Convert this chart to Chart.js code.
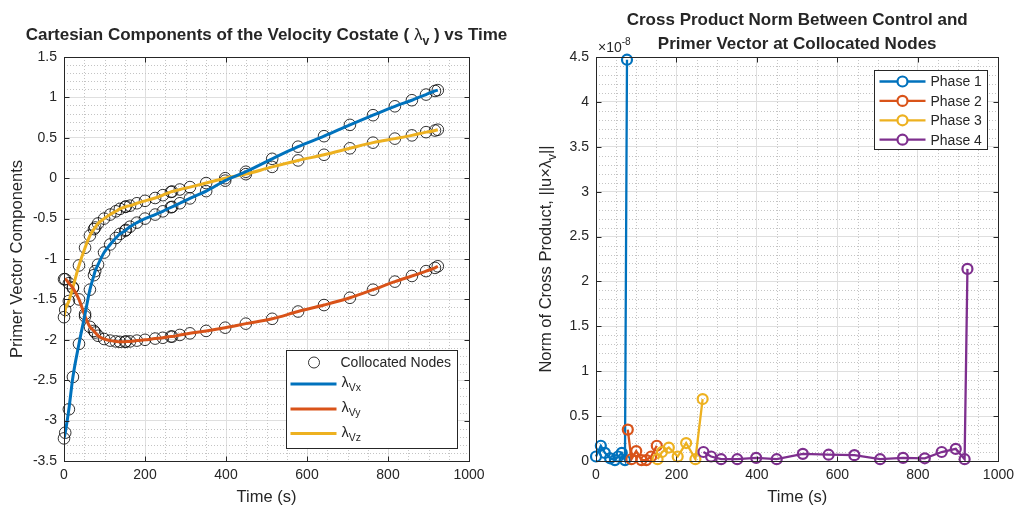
<!DOCTYPE html>
<html><head><meta charset="utf-8">
<script src="https://cdn.jsdelivr.net/npm/chart.js@4"></script>
<style>
html,body{margin:0;padding:0;background:#fff;}
#wrap{position:relative;width:1020px;height:509px;overflow:hidden;}
.c{position:absolute;top:0;width:510px;height:509px;}
</style></head><body>
<div id="wrap">
<div class="c" style="left:0"><canvas id="left" width="510" height="509"></canvas></div>
<div class="c" style="left:510px"><canvas id="right" width="510" height="509"></canvas></div>
</div>
<script>
// ---------- data: left chart (velocity costate components at collocated nodes) ----------
const nodeTimes = [0, 3, 12, 22, 37, 52, 64, 74, 77, 84, 99, 114, 128, 138, 151, 153, 163, 180, 200, 225, 244, 264, 267, 286, 311, 351, 398, 449, 514, 578, 642, 706, 763, 817, 859, 894, 916, 923];
const lamVx = [-3.22, -3.15, -2.86, -2.46, -2.05, -1.68, -1.38, -1.20, -1.15, -1.07, -0.92, -0.82, -0.74, -0.69, -0.65, -0.64, -0.60, -0.55, -0.50, -0.45, -0.41, -0.36, -0.355, -0.31, -0.25, -0.16, -0.03, 0.08, 0.24, 0.39, 0.52, 0.66, 0.78, 0.89, 0.965, 1.035, 1.08, 1.09];
const lamVy = [-1.25, -1.25, -1.30, -1.36, -1.50, -1.71, -1.84, -1.89, -1.91, -1.95, -1.99, -2.01, -2.02, -2.025, -2.025, -2.02, -2.02, -2.01, -2.00, -1.985, -1.975, -1.96, -1.96, -1.94, -1.92, -1.89, -1.85, -1.80, -1.74, -1.65, -1.57, -1.48, -1.38, -1.28, -1.21, -1.15, -1.11, -1.09];
const lamVz = [-1.72, -1.63, -1.52, -1.35, -1.08, -0.86, -0.71, -0.63, -0.61, -0.56, -0.50, -0.45, -0.41, -0.38, -0.355, -0.35, -0.34, -0.31, -0.28, -0.245, -0.21, -0.17, -0.165, -0.14, -0.11, -0.06, 0.00, 0.05, 0.14, 0.22, 0.29, 0.37, 0.44, 0.49, 0.53, 0.57, 0.59, 0.60];
const timeTicks = [0, 200, 400, 600, 800, 1000];
const leftYTicks = [-3.5, -3, -2.5, -2, -1.5, -1, -0.5, 0, 0.5, 1, 1.5];

// ---------- data: right chart (cross product norm, in units of 1e-8) ----------
const normExponent = -8;
const phase1Time = [0, 12, 22, 35, 47, 55, 64, 72, 77];
const phase1Norm = [0.05, 0.17, 0.09, 0.03, 0.01, 0.05, 0.09, 0.01, 4.47];
const phase2Time = [79, 88, 100, 113, 125, 137, 151];
const phase2Norm = [0.35, 0.02, 0.11, 0.01, 0.01, 0.05, 0.17];
const phase3Time = [153, 164, 181, 203, 224, 247, 265];
const phase3Norm = [0.02, 0.10, 0.15, 0.05, 0.20, 0.02, 0.69];
const phase4Time = [267, 286, 311, 351, 398, 449, 514, 578, 642, 706, 763, 817, 859, 894, 916, 923];
const phase4Norm = [0.10, 0.05, 0.02, 0.02, 0.035, 0.02, 0.08, 0.07, 0.065, 0.02, 0.035, 0.03, 0.10, 0.135, 0.02, 2.14];
const rightYTicks = [0, 0.5, 1, 1.5, 2, 2.5, 3, 3.5, 4, 4.5];
const phaseLabels = ['Phase 1', 'Phase 2', 'Phase 3', 'Phase 4'];

// ---------- styles ----------
const FAM = '"Liberation Sans", Arial, Helvetica, sans-serif';
const AX = '#262626';
const COLORS = ['#0072BD', '#D95319', '#EDB120', '#7E2F8E'];
const MAJOR = '#dfdfdf';
const MINOR = '#c4c4c4';
const TICK_SIZE = 14, AXT_SIZE = 16.5, TITLE_SIZE = 17, LEG_SIZE = 14;

function fnt(size, bold){ return (bold ? 'bold ' : '') + size + 'px ' + FAM; }
function pts(xs, ys){ return xs.map((x, i) => ({x: x, y: ys[i]})); }
function fmt(v){ return String(+(+v).toFixed(3)); }

function richWidth(ctx, segs, size){
  let w = 0;
  for (const s of segs){ ctx.font = fnt((s.sub || s.sup) ? size * 0.72 : size, s.bold); w += ctx.measureText(s.t).width; }
  return w;
}
function drawRich(ctx, segs, x, y, size, align){
  const w = richWidth(ctx, segs, size);
  let cx = align === 'center' ? x - w / 2 : x;
  ctx.textBaseline = 'middle'; ctx.textAlign = 'left';
  for (const s of segs){
    const sz = (s.sub || s.sup) ? size * 0.72 : size;
    ctx.font = fnt(sz, s.bold);
    const dy = s.sub ? size * 0.38 : (s.sup ? -size * 0.42 : 0);
    ctx.fillText(s.t, cx, y + dy);
    cx += ctx.measureText(s.t).width;
  }
}

function axesPlugin(cfg){
  return {
    id: 'matlabAxes_' + cfg.id,
    beforeDatasetsDraw(chart){
      const ctx = chart.ctx, a = chart.chartArea, xs = chart.scales.x, ys = chart.scales.y;
      ctx.save();
      ctx.strokeStyle = MINOR; ctx.lineWidth = 1; ctx.setLineDash([1, 2]);
      const nx = Math.round((xs.max - xs.min) / cfg.xMinor), rx = Math.round(cfg.xMajor / cfg.xMinor);
      for (let i = 1; i < nx; i++){
        if (i % rx === 0) continue;
        const px = Math.round(xs.getPixelForValue(xs.min + i * cfg.xMinor)) + 0.5;
        ctx.beginPath(); ctx.moveTo(px, a.top); ctx.lineTo(px, a.bottom); ctx.stroke();
      }
      const ny = Math.round((ys.max - ys.min) / cfg.yMinor), ry = Math.round(cfg.yMajor / cfg.yMinor);
      for (let i = 1; i < ny; i++){
        if (i % ry === 0) continue;
        const py = Math.round(ys.getPixelForValue(ys.min + i * cfg.yMinor)) + 0.5;
        ctx.beginPath(); ctx.moveTo(a.left, py); ctx.lineTo(a.right, py); ctx.stroke();
      }
      ctx.restore();
    },
    afterDraw(chart){
      const ctx = chart.ctx, a = chart.chartArea, xs = chart.scales.x, ys = chart.scales.y;
      ctx.save();
      ctx.strokeStyle = AX; ctx.lineWidth = 1; ctx.setLineDash([]);
      const L = Math.round(a.left) + 0.5, R = Math.round(a.right) + 0.5, T = Math.round(a.top) + 0.5, B = Math.round(a.bottom) + 0.5;
      ctx.strokeRect(L, T, R - L, B - T);
      const tl = 5;
      ctx.beginPath();
      for (const t of xs.ticks){
        const px = Math.round(xs.getPixelForValue(t.value)) + 0.5;
        ctx.moveTo(px, B); ctx.lineTo(px, B - tl);
        ctx.moveTo(px, T); ctx.lineTo(px, T + tl);
      }
      for (const t of ys.ticks){
        const py = Math.round(ys.getPixelForValue(t.value)) + 0.5;
        ctx.moveTo(L, py); ctx.lineTo(L + tl, py);
        ctx.moveTo(R, py); ctx.lineTo(R - tl, py);
      }
      ctx.stroke();
      ctx.restore();
      ctx.save();
      ctx.fillStyle = AX;
      cfg.annotate(chart, ctx, a);
      ctx.restore();
    }
  };
}

function scaleCfg(min, max, ticksArr, padding, fitKey, fitVal){
  const o = {
    type: 'linear', min: min, max: max,
    afterBuildTicks(s){ s.ticks = ticksArr.map(v => ({value: v})); },
    ticks: {padding: padding, color: AX, font: {family: FAM, size: TICK_SIZE}, maxRotation: 0, autoSkip: false, callback: v => fmt(v)},
    grid: {color: MAJOR, lineWidth: 1, drawTicks: false},
    border: {display: false}
  };
  o.afterFit = function(s){ s[fitKey] = fitVal; };
  return o;
}

// ---------- left chart ----------
const nodeStyle = {showLine: false, pointRadius: 5.8, pointHoverRadius: 5.8, pointBorderColor: '#000', pointBackgroundColor: 'rgba(0,0,0,0)', pointBorderWidth: 0.8, borderColor: '#000', clip: false, order: 2};
const lineStyle = (c) => ({borderColor: c, borderWidth: 3, pointRadius: 0, cubicInterpolationMode: 'monotone', fill: false, order: 1});

new Chart(document.getElementById('left'), {
  type: 'line',
  data: {datasets: [
    Object.assign({label: 'Collocated Nodes', data: pts(nodeTimes, lamVx)}, nodeStyle),
    Object.assign({label: 'nodes y', data: pts(nodeTimes, lamVy)}, nodeStyle),
    Object.assign({label: 'nodes z', data: pts(nodeTimes, lamVz)}, nodeStyle),
    Object.assign({label: 'lambda Vx', data: pts(nodeTimes, lamVx)}, lineStyle(COLORS[0])),
    Object.assign({label: 'lambda Vy', data: pts(nodeTimes, lamVy)}, lineStyle(COLORS[1])),
    Object.assign({label: 'lambda Vz', data: pts(nodeTimes, lamVz)}, lineStyle(COLORS[2]))
  ]},
  options: {
    responsive: false, animation: false, devicePixelRatio: 1,
    layout: {padding: {left: 0, right: 41, top: 57, bottom: 0}},
    plugins: {legend: {display: false}, tooltip: {enabled: false}, title: {display: false}},
    scales: {
      x: scaleCfg(0, 1000, timeTicks, 6, 'height', 48),
      y: scaleCfg(-3.5, 1.5, leftYTicks, 7, 'width', 64)
    }
  },
  plugins: [axesPlugin({id: 'L', xMinor: 50, xMajor: 200, yMinor: 0.1, yMajor: 0.5, annotate(chart, ctx, a){
    const cx = (a.left + a.right) / 2;
    drawRich(ctx, [
      {t: 'Cartesian Components of the Velocity Costate ( ', bold: true},
      {t: 'λ', bold: false},
      {t: 'v', bold: true, sub: true},
      {t: ' ) vs Time', bold: true}
    ], cx, 35, TITLE_SIZE, 'center');
    ctx.font = fnt(AXT_SIZE); ctx.textAlign = 'center'; ctx.textBaseline = 'middle';
    ctx.fillText('Time (s)', cx, 497);
    ctx.save(); ctx.translate(17, (a.top + a.bottom) / 2); ctx.rotate(-Math.PI / 2);
    ctx.fillText('Primer Vector Components', 0, 0); ctx.restore();
    // legend
    const bx1 = Math.round(a.right - 12) + 0.5, by2 = Math.round(a.bottom - 13) + 0.5;
    const bx0 = bx1 - 171, by0 = by2 - 98;
    ctx.fillStyle = '#fff'; ctx.fillRect(bx0, by0, bx1 - bx0, by2 - by0);
    ctx.strokeStyle = AX; ctx.lineWidth = 1; ctx.strokeRect(bx0, by0, bx1 - bx0, by2 - by0);
    ctx.fillStyle = AX;
    const rowY = [by0 + 12, by0 + 33.5, by0 + 58.5, by0 + 83];
    ctx.beginPath(); ctx.strokeStyle = '#000'; ctx.lineWidth = 0.8;
    ctx.arc(bx0 + 27.5, rowY[0], 5.5, 0, Math.PI * 2); ctx.stroke();
    ctx.font = fnt(LEG_SIZE); ctx.textAlign = 'left'; ctx.textBaseline = 'middle';
    ctx.fillText('Collocated Nodes', bx0 + 54, rowY[0] + 1);
    const subs = ['Vx', 'Vy', 'Vz'];
    for (let i = 0; i < 3; i++){
      ctx.strokeStyle = COLORS[i]; ctx.lineWidth = 3;
      ctx.beginPath(); ctx.moveTo(bx0 + 4, rowY[i + 1]); ctx.lineTo(bx0 + 50, rowY[i + 1]); ctx.stroke();
      ctx.fillStyle = AX;
      drawRich(ctx, [{t: 'λ'}, {t: subs[i], sub: true}], bx0 + 55, rowY[i + 1] - 1, 14.5, 'left');
    }
  }})]
});

// ---------- right chart ----------
const phaseTimes = [phase1Time, phase2Time, phase3Time, phase4Time];
const phaseNorms = [phase1Norm, phase2Norm, phase3Norm, phase4Norm];
new Chart(document.getElementById('right'), {
  type: 'line',
  data: {datasets: phaseLabels.map((lab, i) => ({
    label: lab, data: pts(phaseTimes[i], phaseNorms[i]),
    borderColor: COLORS[i], borderWidth: 2.3, tension: 0, fill: false,
    pointRadius: 5, pointHoverRadius: 5, pointBorderWidth: 2.2, pointBorderColor: COLORS[i], pointBackgroundColor: 'rgba(0,0,0,0)',
    clip: false, order: 4 - i
  }))},
  options: {
    responsive: false, animation: false, devicePixelRatio: 1,
    layout: {padding: {left: 0, right: 19, top: 57, bottom: 0}},
    plugins: {legend: {display: false}, tooltip: {enabled: false}, title: {display: false}},
    scales: {
      x: scaleCfg(0, 1000, timeTicks, 6, 'height', 48),
      y: scaleCfg(0, 4.5, rightYTicks, 7, 'width', 86)
    }
  },
  plugins: [axesPlugin({id: 'R', xMinor: 50, xMajor: 200, yMinor: 0.1, yMajor: 0.5, annotate(chart, ctx, a){
    const cx = (a.left + a.right) / 2;
    ctx.font = fnt(TITLE_SIZE, true); ctx.textAlign = 'center'; ctx.textBaseline = 'middle';
    ctx.fillText('Cross Product Norm Between Control and', cx, 20);
    ctx.fillText('Primer Vector at Collocated Nodes', cx, 44);
    drawRich(ctx, [{t: '×10'}, {t: String(normExponent), sup: true}], a.left + 2, 48, 14, 'left');
    ctx.font = fnt(AXT_SIZE); ctx.textAlign = 'center'; ctx.textBaseline = 'middle';
    ctx.fillText('Time (s)', cx, 497);
    ctx.save(); ctx.translate(36, (a.top + a.bottom) / 2); ctx.rotate(-Math.PI / 2);
    drawRich(ctx, [{t: 'Norm of Cross Product, ||u×λ'}, {t: 'v', sub: true}, {t: '||'}], 0, 0, AXT_SIZE, 'center');
    ctx.restore();
    // legend
    const bx1 = Math.round(a.right - 11) + 0.5, by0 = Math.round(a.top + 13) + 0.5;
    const bx0 = bx1 - 113, by1 = by0 + 79;
    ctx.fillStyle = '#fff'; ctx.fillRect(bx0, by0, bx1 - bx0, by1 - by0);
    ctx.strokeStyle = AX; ctx.lineWidth = 1; ctx.strokeRect(bx0, by0, bx1 - bx0, by1 - by0);
    for (let i = 0; i < 4; i++){
      const y = by0 + 11 + i * 19.4;
      ctx.strokeStyle = COLORS[i]; ctx.lineWidth = 2.3;
      ctx.beginPath(); ctx.moveTo(bx0 + 5, y); ctx.lineTo(bx0 + 51, y); ctx.stroke();
      ctx.fillStyle = '#fff'; ctx.beginPath(); ctx.arc(bx0 + 28, y, 5, 0, Math.PI * 2); ctx.fill();
      ctx.lineWidth = 2.2; ctx.beginPath(); ctx.arc(bx0 + 28, y, 5, 0, Math.PI * 2); ctx.stroke();
      ctx.fillStyle = AX; ctx.font = fnt(LEG_SIZE); ctx.textAlign = 'left'; ctx.textBaseline = 'middle';
      ctx.fillText(phaseLabels[i], bx0 + 56, y + 1);
    }
  }})]
});
</script>
</body></html>
